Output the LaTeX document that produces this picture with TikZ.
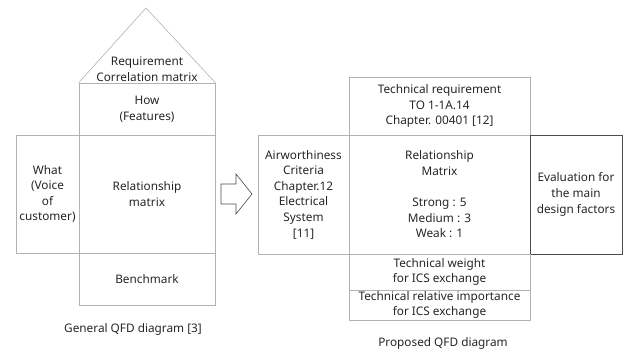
\documentclass[tikz,border=0pt]{standalone}
\usepackage{fontspec}
\setmainfont{Noto Sans}
\usepackage{tikz}
\usetikzlibrary{calc}
\tikzset{cell/.style={draw=black!30, line width=.6pt, inner sep=0pt, align=center,
   font=\fontsize{11.8}{15.6}\selectfont, text=black!85},
   evalcell/.style={cell, draw=black!70}}
\newcommand{\cellat}[6]{% name, x1, y1, x2, y2, text
 \node[cell, minimum width=#4pt-#2pt, minimum height=#5pt-#3pt] (#1) at ({(#2+#4)/2},{(#3+#5)/2}) {#6};}

\begin{document}
\begin{tikzpicture}[x=1pt,y=-1pt]
\useasboundingbox (0,0) rectangle (623,350);
% general QFD
\cellat{how}{79}{83}{215}{135}{How\\(Features)}
\cellat{relmat}{79}{135}{215}{253}{Relationship\\matrix}
\cellat{what}{16}{135}{79}{253}{What\\(Voice\\of\\customer)}
\cellat{bench}{79}{253}{215}{305}{Benchmark}
\coordinate (apex) at (146,8);
\draw[black!30, line width=.6pt] (how.north west) -- (apex) -- (how.north east);
\node[cell, draw=none] (roof) at (147,69) {Requirement\\Correlation matrix};
\node[cell, draw=none] (capgen) at (133,329) {General QFD diagram [3]};
% arrow
\draw[black!70, line width=.6pt] (221,184) -- (236,184) -- (236,174) -- (252,194) -- (236,214)
  -- (236,204) -- (221,204) -- cycle;
% proposed QFD
\cellat{techreq}{349}{77}{530}{135}{Technical requirement\\TO 1-1A.14\\Chapter. 00401 [12]}
\cellat{airw}{258}{135}{349}{254}{Airworthiness\\Criteria\\Chapter.12\\Electrical\\System\\{[11]}}
\cellat{relprop}{349}{135}{530}{254}{Relationship\\Matrix\\ \\Strong : 5\\Medium : 3\\Weak : 1}
\node[evalcell, minimum width=92pt, minimum height=119pt] (evalf) at (576,194.5)
  {Evaluation for\\the main\\design factors};
\cellat{techw}{349}{254}{530}{290}{Technical weight\\for ICS exchange}
\cellat{techrel}{349}{290}{530}{320}{Technical relative importance\\for ICS exchange}
\node[cell, draw=none] (capprop) at (443,343) {Proposed QFD diagram};
\end{tikzpicture}
\end{document}
